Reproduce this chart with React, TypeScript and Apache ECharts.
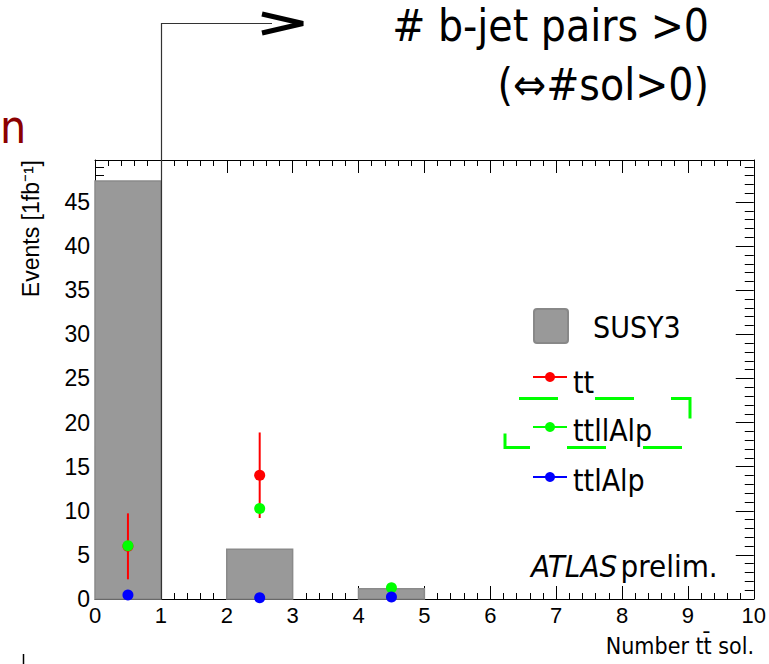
import React, { useEffect, useRef } from "react";
import * as echarts from "echarts";

// ---- data ----
const binLow = [0, 2, 4];
const binHigh = [1, 3, 5];
const susy3 = [47.4, 5.63, 1.17];

const ttX = [0.5, 2.5];
const ttY = [5.97, 14.03];
const ttErr = [3.74, 4.85];

const ttllAlpX = [0.5, 2.5, 4.5];
const ttllAlpY = [6.04, 10.27, 1.28];

const ttlAlpX = [0.5, 2.5, 4.5];
const ttlAlpY = [0.45, 0.15, 0.23];

const xMin = 0;
const xMax = 10;
const yMin = 0;
const yMax = 49.77;

const legendNames = ["SUSY3", "tt", "ttllAlp", "ttlAlp"];
const titleLines = ["# b-jet pairs >0", "(\u21D4#sol>0)"];
const xTitle = "Number tt\u0304 sol.";
const yTitle = "Events [1fb\u207B\u00B9]";

const TICK_FONT = "'Liberation Sans', Arial, sans-serif";
const TEXT_FONT = "'DejaVu Sans Condensed', 'DejaVu Sans', sans-serif";

const RED = "#ff0000";
const GREEN = "#00ff00";
const BLUE = "#0000ff";

function makeXAxis(pos: "bottom" | "top", labels: boolean) {
  return {
    type: "value",
    position: pos,
    min: xMin,
    max: xMax,
    interval: 1,
    axisLine: { show: true, onZero: false, lineStyle: { color: "#000", width: 1 } },
    axisTick: { show: true, inside: true, length: 13, lineStyle: { color: "#000", width: 1 } },
    minorTick: { show: true, splitNumber: 5, length: 6, lineStyle: { color: "#000", width: 1 } },
    splitLine: { show: false },
    axisLabel: {
      show: labels,
      color: "#000",
      fontFamily: TICK_FONT,
      fontSize: 22,
      margin: 5,
    },
  };
}

function makeYAxis(pos: "left" | "right", labels: boolean) {
  return {
    type: "value",
    position: pos,
    min: yMin,
    max: yMax,
    interval: 5,
    axisLine: { show: true, onZero: false, lineStyle: { color: "#000", width: 1 } },
    axisTick: { show: true, inside: true, length: 18, lineStyle: { color: "#000", width: 1 } },
    minorTick: { show: true, splitNumber: 5, length: 9, lineStyle: { color: "#000", width: 1 } },
    splitLine: { show: false },
    axisLabel: {
      show: labels,
      color: "#000",
      fontFamily: TICK_FONT,
      fontSize: 23,
      margin: 5,
      showMaxLabel: false,
      formatter: (v: number) =>
        Math.abs(v / 5 - Math.round(v / 5)) < 1e-6 ? String(Math.round(v)) : "",
    },
  };
}

export default function App() {
  const ref = useRef<HTMLDivElement>(null);

  useEffect(() => {
    if (!ref.current) return;
    const chart = echarts.init(ref.current, undefined, { renderer: "svg" });

    const barData = binLow.map((b, i) => [b, binHigh[i], susy3[i]]);
    const errData = ttX.map((x, i) => [x, ttY[i] - ttErr[i], ttY[i] + ttErr[i]]);

    const legendLineX0 = 533;
    const legendLineX1 = 567;
    const legendDotX = 550;
    const legendTextX = 573;
    const rows = [
      { name: legendNames[1], color: RED, y: 377, ty: 382 },
      { name: legendNames[2], color: GREEN, y: 427, ty: 430 },
      { name: legendNames[3], color: BLUE, y: 477, ty: 480 },
    ];

    const graphics: any[] = [
      // dark red text at left (tail of a clipped heading)
      {
        type: "text",
        x: 0,
        y: 150,
        z: 50,
        style: {
          text: "n",
          fill: "#8b0000",
          font: `46px ${TEXT_FONT}`,
          verticalAlign: "bottom",
        },
      },
      // arrow
      {
        type: "polyline",
        z: 100,
        shape: { points: [[161.5, 599], [161.5, 23.5], [272, 23.5]] },
        style: { stroke: "#333", lineWidth: 1.2, fill: null },
      },
      {
        type: "polyline",
        z: 100,
        shape: { points: [[262, 14], [303, 23.5], [262, 33]] },
        style: { stroke: "#000", lineWidth: 5, fill: null, lineJoin: "miter" },
      },
      // title lines
      {
        type: "text",
        z: 100,
        x: 709,
        y: 47,
        style: {
          text: titleLines[0],
          fill: "#000",
          font: `44px ${TEXT_FONT}`,
          align: "right",
          verticalAlign: "bottom",
        },
      },
      {
        type: "text",
        z: 100,
        x: 709,
        y: 106,
        style: {
          text: titleLines[1],
          fill: "#000",
          font: `44px ${TEXT_FONT}`,
          align: "right",
          verticalAlign: "bottom",
        },
      },
      // y axis title
      {
        type: "text",
        z: 100,
        x: 42,
        y: 160,
        rotation: Math.PI / 2,
        style: {
          text: yTitle,
          fill: "#000",
          font: `23px ${TICK_FONT}`,
          align: "right",
          verticalAlign: "bottom",
        },
      },
      // x axis title
      {
        type: "text",
        z: 100,
        x: 754,
        y: 657,
        style: {
          text: xTitle,
          fill: "#000",
          font: `23px ${TEXT_FONT}`,
          align: "right",
          verticalAlign: "bottom",
        },
      },
      // ATLAS prelim.
      {
        type: "text",
        z: 100,
        x: 531,
        y: 566,
        style: {
          text: "{i|ATLAS} {n|prelim.}",
          fill: "#000",
          verticalAlign: "middle",
          rich: {
            i: { font: `italic 31px ${TEXT_FONT}`, fill: "#000" },
            n: { font: `31px ${TEXT_FONT}`, fill: "#000" },
          },
        },
      },
      // legend: SUSY3 box
      {
        type: "rect",
        z: 100,
        shape: { x: 534, y: 309, width: 34, height: 34, r: 3 },
        style: { fill: "#999", stroke: "#888", lineWidth: 2 },
      },
      {
        type: "text",
        z: 100,
        x: 593,
        y: 327,
        style: {
          text: legendNames[0],
          fill: "#000",
          font: `30px ${TEXT_FONT}`,
          verticalAlign: "middle",
        },
      },
      // green dashed highlight box
      {
        type: "rect",
        z: 100,
        shape: { x: 505, y: 398.5, width: 185, height: 49 },
        style: {
          fill: null,
          stroke: GREEN,
          lineWidth: 3,
          lineDash: [39, 37],
          lineDashOffset: 62,
        },
      },
      // small mark bottom-left
      {
        type: "line",
        z: 100,
        shape: { x1: 23.5, y1: 654, x2: 23.5, y2: 664 },
        style: { stroke: "#000", lineWidth: 1.5 },
      },
    ];

    rows.forEach((r) => {
      graphics.push({
        type: "line",
        z: 100,
        shape: { x1: legendLineX0, y1: r.y, x2: legendLineX1, y2: r.y },
        style: { stroke: r.color, lineWidth: 2 },
      });
      graphics.push({
        type: "circle",
        z: 101,
        shape: { cx: legendDotX, cy: r.y, r: 5 },
        style: { fill: r.color },
      });
      graphics.push({
        type: "text",
        z: 100,
        x: legendTextX,
        y: r.ty,
        style: {
          text: r.name,
          fill: "#000",
          font: `30px ${TEXT_FONT}`,
          verticalAlign: "middle",
        },
      });
    });

    chart.setOption({
      animation: false,
      backgroundColor: "#fff",
      grid: { left: 95, right: 15, top: 160, bottom: 65, containLabel: false },
      xAxis: [makeXAxis("bottom", true), makeXAxis("top", false)],
      yAxis: [makeYAxis("left", true), makeYAxis("right", false)],
      graphic: graphics,
      series: [
        {
          name: legendNames[0],
          type: "custom",
          xAxisIndex: 0,
          yAxisIndex: 0,
          encode: { x: [0, 1], y: 2 },
          data: barData,
          z: 1,
          renderItem: (params: any, api: any) => {
            const p0 = api.coord([api.value(0), api.value(2)]);
            const p1 = api.coord([api.value(1), 0]);
            return {
              type: "rect",
              shape: { x: p0[0], y: p0[1], width: p1[0] - p0[0], height: p1[1] - p0[1] },
              style: { fill: "#999999", stroke: "#8a8a8a", lineWidth: 1.5 },
            };
          },
        },
        {
          name: "ttErr",
          type: "custom",
          encode: { x: 0, y: [1, 2] },
          data: errData,
          z: 2,
          renderItem: (params: any, api: any) => {
            const a = api.coord([api.value(0), api.value(1)]);
            const b = api.coord([api.value(0), api.value(2)]);
            return {
              type: "line",
              shape: { x1: a[0], y1: a[1], x2: b[0], y2: b[1] },
              style: { stroke: RED, lineWidth: 2 },
            };
          },
        },
        {
          name: legendNames[1],
          type: "scatter",
          symbol: "circle",
          symbolSize: 11,
          itemStyle: { color: RED, opacity: 1 },
          data: ttX.map((x, i) => [x, ttY[i]]),
          z: 3,
        },
        {
          name: legendNames[2],
          type: "scatter",
          symbol: "circle",
          symbolSize: 11,
          itemStyle: { color: GREEN, opacity: 1 },
          data: ttllAlpX.map((x, i) => [x, ttllAlpY[i]]),
          z: 4,
        },
        {
          name: legendNames[3],
          type: "scatter",
          symbol: "circle",
          symbolSize: 11,
          itemStyle: { color: BLUE, opacity: 1 },
          data: ttlAlpX.map((x, i) => [x, ttlAlpY[i]]),
          z: 5,
          clip: false,
        },
      ],
    });

    return () => chart.dispose();
  }, []);

  return (
    <div
      ref={ref}
      style={{ position: "fixed", left: 0, top: 0, width: 769, height: 664 }}
    />
  );
}
